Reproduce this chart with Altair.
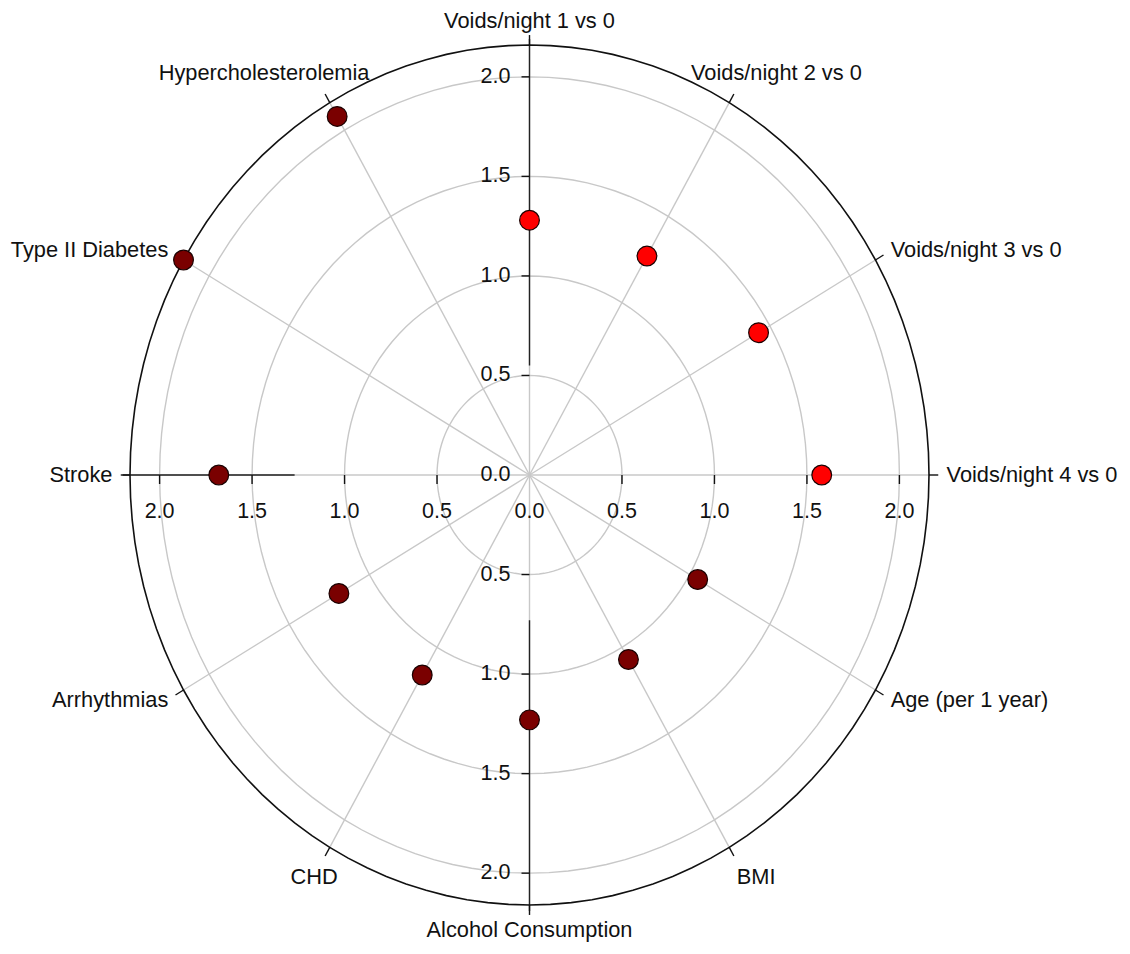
import altair as alt
import pandas as pd

# ---- data ----
categories = ["Voids/night 1 vs 0", "Voids/night 2 vs 0", "Voids/night 3 vs 0",
              "Voids/night 4 vs 0", "Age (per 1 year)", "BMI", "Alcohol Consumption",
              "CHD", "Arrhythmias", "Stroke", "Type II Diabetes", "Hypercholesterolemia"]
angles = [90, 60, 30, 0, -30, -60, -90, -120, -150, 180, 150, 120]
values = [1.28, 1.27, 1.43, 1.58, 1.05, 1.07, 1.23, 1.16, 1.19, 1.68, 2.16, 2.08]
groups = ["Voids"] * 4 + ["Covariate"] * 8

ring_values = [0.5, 1.0, 1.5, 2.0]
outer_r = 2.16
tick_values = [0.0, 0.5, 1.0, 1.5, 2.0]
tick_labels = ["0.0", "0.5", "1.0", "1.5", "2.0"]

FONT = "Liberation Sans"
GRID = "#c8c8c8"

pts = pd.DataFrame({"cat": categories, "angle": angles, "value": values, "group": groups})
spk = pd.DataFrame({"cat": categories, "angle": angles})
rings = pd.DataFrame([{"r": r, "t": t} for r in ring_values for t in range(121)])
outer = pd.DataFrame([{"r": outer_r, "t": t} for t in range(121)])
ticks = pd.DataFrame({"v": tick_values, "lab": tick_labels})

XS = alt.Scale(domain=[-outer_r, outer_r], nice=False, zero=False)
YS = alt.Scale(domain=[-outer_r, outer_r], nice=False, zero=False)


def X(f):
    return alt.X(f"{f}:Q", scale=XS, axis=None)


def Y(f):
    return alt.Y(f"{f}:Q", scale=YS, axis=None)


rad = "datum.angle * PI / 180"

ring_layer = alt.Chart(rings).transform_calculate(
    a="datum.t * 3 * PI / 180"
).transform_calculate(
    x="datum.r * cos(datum.a)", y="datum.r * sin(datum.a)"
).mark_line(color=GRID, strokeWidth=1.4).encode(
    x=X("x"), y=Y("y"), detail="r:N", order="t:Q"
)

outer_layer = alt.Chart(outer).transform_calculate(
    a="datum.t * 3 * PI / 180"
).transform_calculate(
    x="datum.r * cos(datum.a)", y="datum.r * sin(datum.a)"
).mark_line(color="#111111", strokeWidth=1.6).encode(
    x=X("x"), y=Y("y"), order="t:Q"
)

spoke_layer = alt.Chart(spk).transform_calculate(
    x0="0", y0="0",
    x1=f"{outer_r} * cos({rad})", y1=f"{outer_r} * sin({rad})"
).mark_rule(color=GRID, strokeWidth=1.4).encode(
    x=X("x0"), y=Y("y0"), x2="x1:Q", y2="y1:Q"
)

# darker axis segments (vertical axis and left part of the horizontal axis)
axis_seg = pd.DataFrame({
    "xa": [0.0, 0.0, -outer_r - 0.04],
    "ya": [0.55, -0.73, 0.0],
    "xb": [0.0, 0.0, -1.27],
    "yb": [outer_r + 0.03, -outer_r - 0.03, 0.0],
})
axis_layer = alt.Chart(axis_seg).mark_rule(color="#222222", strokeWidth=1.4).encode(
    x=X("xa"), y=Y("ya"), x2="xb:Q", y2="yb:Q"
)

outer_tick_layer = alt.Chart(spk).transform_calculate(
    x0=f"{outer_r} * cos({rad})", y0=f"{outer_r} * sin({rad})",
    x1=f"({outer_r} + 0.05) * cos({rad})", y1=f"({outer_r} + 0.05) * sin({rad})"
).mark_rule(color="#111111", strokeWidth=1.4).encode(
    x=X("x0"), y=Y("y0"), x2="x1:Q", y2="y1:Q"
)

# small tick marks on the axes
vtick_up = alt.Chart(ticks).transform_filter("datum.v > 0").transform_calculate(
    x0="0", x1="-8/185", y0="datum.v"
).mark_rule(color="#111111", strokeWidth=1.4).encode(x=X("x0"), x2="x1:Q", y=Y("y0"))
vtick_dn = alt.Chart(ticks).transform_filter("datum.v > 0").transform_calculate(
    x0="0", x1="-8/185", y0="-datum.v"
).mark_rule(color="#111111", strokeWidth=1.4).encode(x=X("x0"), x2="x1:Q", y=Y("y0"))
htick_r = alt.Chart(ticks).transform_filter("datum.v > 0").transform_calculate(
    y0="0", y1="-9/199", x0="datum.v"
).mark_rule(color="#111111", strokeWidth=1.4).encode(y=Y("y0"), y2="y1:Q", x=X("x0"))
htick_l = alt.Chart(ticks).transform_filter("datum.v > 0").transform_calculate(
    y0="0", y1="-9/199", x0="-datum.v"
).mark_rule(color="#111111", strokeWidth=1.4).encode(y=Y("y0"), y2="y1:Q", x=X("x0"))

# tick labels
TL = dict(font=FONT, fontSize=21.5, color="#111111", baseline="middle")
lab_up = alt.Chart(ticks).transform_calculate(x0="0", y0="datum.v").mark_text(
    align="right", dx=-19, **TL
).encode(x=X("x0"), y=Y("y0"), text="lab:N")
lab_dn = alt.Chart(ticks).transform_filter("datum.v > 0").transform_calculate(
    x0="0", y0="-datum.v").mark_text(
    align="right", dx=-19, **TL
).encode(x=X("x0"), y=Y("y0"), text="lab:N")
lab_r = alt.Chart(ticks).transform_calculate(x0="datum.v", y0="0").mark_text(
    align="center", dy=37, **TL
).encode(x=X("x0"), y=Y("y0"), text="lab:N")
lab_l = alt.Chart(ticks).transform_filter("datum.v > 0").transform_calculate(
    x0="-datum.v", y0="0").mark_text(
    align="center", dy=37, **TL
).encode(x=X("x0"), y=Y("y0"), text="lab:N")

# points
point_layer = alt.Chart(pts).transform_calculate(
    x="datum.value * cos(datum.angle * PI / 180)",
    y="datum.value * sin(datum.angle * PI / 180)"
).mark_point(filled=True, shape="circle", size=390, stroke="#1a0000",
             strokeWidth=1.2, opacity=1).encode(
    x=X("x"), y=Y("y"),
    color=alt.Color("group:N", legend=None,
                    scale=alt.Scale(domain=["Voids", "Covariate"],
                                    range=["#ff0000", "#7a0000"])),
    tooltip=["cat:N", "value:Q"]
)

# category labels
base_lab = alt.Chart(spk).transform_calculate(
    c=f"cos({rad})", s=f"sin({rad})"
)


def cat_layer(flt, lx, ly, align):
    return base_lab.transform_filter(flt).transform_calculate(
        lx=lx, ly=ly
    ).mark_text(align=align, baseline="middle", font=FONT, fontSize=21.8,
                color="#111111").encode(x=X("lx"), y=Y("ly"), text="cat:N")


lab_left = cat_layer("datum.c > 0.8", "2.255 * datum.c", "2.26 * datum.s", "left")
lab_right = cat_layer("datum.c < -0.8", "2.255 * datum.c", "2.26 * datum.s", "right")
lab_vert = cat_layer("abs(datum.c) < 0.1", "0",
                     "datum.s > 0 ? 2.28 : -2.285", "center")
lab_diag = cat_layer(
    "abs(datum.c) >= 0.1 && abs(datum.c) <= 0.8",
    "2.33 * datum.c + (datum.s > 0 ? (datum.c > 0 ? 0.17 : -0.27) : (datum.c > 0 ? 0.06 : 0.0))",
    "2.33 * datum.s", "center")

chart = alt.layer(
    ring_layer, spoke_layer, axis_layer, outer_layer, outer_tick_layer,
    vtick_up, vtick_dn, htick_r, htick_l,
    lab_up, lab_dn, lab_r, lab_l,
    point_layer,
    lab_left, lab_right, lab_vert, lab_diag,
).properties(
    width=799, height=860,
    padding={"left": 122, "top": 37, "right": 192, "bottom": 40},
    autosize=alt.AutoSizeParams(type="none"),
).configure_view(strokeWidth=0)

chart.save("out.html", embed_options={"renderer": "svg", "actions": False})
